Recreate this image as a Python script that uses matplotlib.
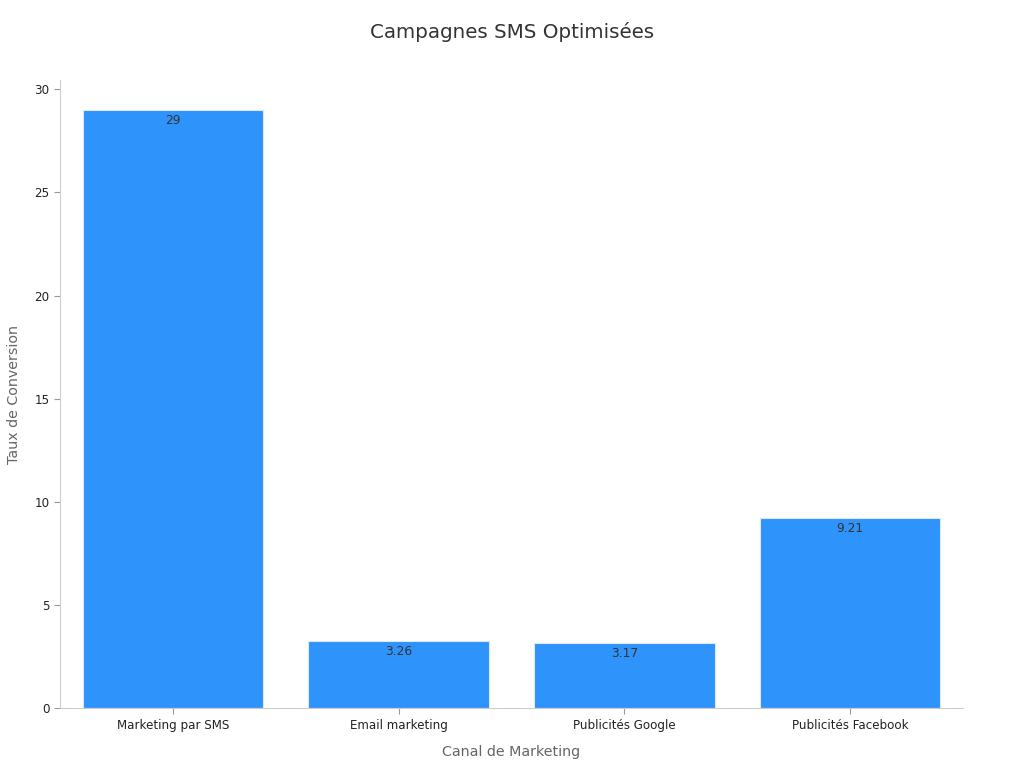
import matplotlib.pyplot as plt

categories = ["Marketing par SMS", "Email marketing", "Publicités Google", "Publicités Facebook"]
values = [29, 3.26, 3.17, 9.21]
value_labels = ["29", "3.26", "3.17", "9.21"]

fig = plt.figure(figsize=(10.24, 7.68), dpi=100)
ax = fig.add_axes([0.0586, 0.078, 0.8818, 0.8178])

x = range(len(categories))
bars = ax.bar(x, values, width=0.8, color="#2E93FA", edgecolor="#dbe9f7", linewidth=0.8)

for bar, lab in zip(bars, value_labels):
    ax.text(bar.get_x() + bar.get_width() / 2, bar.get_height() - 0.2, lab,
            ha="center", va="top", fontsize=8.8, color="#333333")

ax.set_xlim(-0.5, 3.5)
ax.set_ylim(0, 30.45)
ax.set_xticks(list(x))
ax.set_xticklabels(categories)
ax.set_yticks([0, 5, 10, 15, 20, 25, 30])

for side in ["top", "right"]:
    ax.spines[side].set_visible(False)
for side in ["left", "bottom"]:
    ax.spines[side].set_color("#cccccc")

ax.tick_params(axis="both", labelsize=8.6, colors="#222222", length=4)
ax.tick_params(axis="both", color="#999999")

ax.set_xlabel("Canal de Marketing", fontsize=10.3, color="#666666", labelpad=10)
ax.set_ylabel("Taux de Conversion", fontsize=10.3, color="#666666", labelpad=10)
fig.suptitle("Campagnes SMS Optimisées", fontsize=14.3, color="#333333", y=0.972)

fig.savefig("out.png", dpi=100)
